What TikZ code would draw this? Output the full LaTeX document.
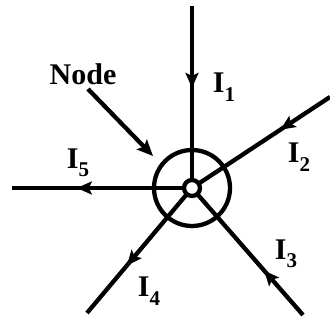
\documentclass[tikz,border=0pt]{standalone}
\usepackage{fontspec}
\setmainfont{Liberation Serif}
\usetikzlibrary{arrows.meta,decorations.markings}
\tikzset{
  wire/.style={line width=4.3pt},
  midarrow/.style={postaction={decorate},decoration={markings,mark=at position #1 with {\arrow{Stealth[length=15pt,width=13pt,inset=3pt]}}}},
  lbl/.style={font=\fontsize{30}{32}\selectfont\bfseries, inner sep=0pt},
}
\newcommand{\cur}[1]{I\raisebox{-0.28em}{\fontsize{21}{23}\selectfont #1}}
\begin{document}
\begin{tikzpicture}[x=1pt,y=-1pt]
\useasboundingbox (0,0) rectangle (330,320);
\coordinate (c) at (192,188);
\coordinate (e1) at (192,6);
\coordinate (e2) at (330,97);
\coordinate (e3) at (303,315);
\coordinate (e4) at (87,313);
\coordinate (e5) at (12,188);
\draw[wire] (c) circle[radius=38];
\draw[wire, midarrow=0.45] (e1) -- (c);
\draw[wire, midarrow=0.36] (e2) -- (c);
\draw[wire, midarrow=0.35] (e3) -- (c);
\draw[wire, midarrow=0.62] (c) -- (e4);
\draw[wire, midarrow=0.64] (c) -- (e5);
\draw[wire, fill=white] (c) circle[radius=8];
\node[lbl] (l1) at (224,87) {\cur{1}};
\node[lbl] (l2) at (299,157) {\cur{2}};
\node[lbl] (l3) at (286,254) {\cur{3}};
\node[lbl] (l4) at (149,291) {\cur{4}};
\node[lbl] (l5) at (78,163) {\cur{5}};
\node[lbl] (nd) at (83,74) {Node};
\coordinate (na) at (88,89);
\coordinate (nb) at (153,156);
\draw[wire, -{Stealth[length=16pt,width=14pt,inset=3pt]}] (na) -- (nb);
\end{tikzpicture}
\end{document}
